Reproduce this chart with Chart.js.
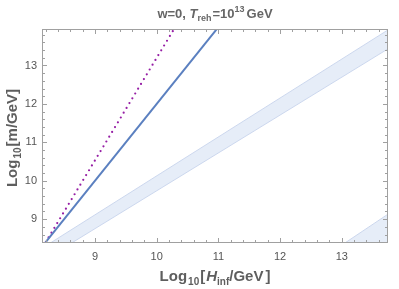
<!DOCTYPE html>
<html><head><meta charset="utf-8">
<script src="https://cdn.jsdelivr.net/npm/chart.js@4"></script>
<style>html,body{margin:0;padding:0;background:#fff;}#wrap{width:399px;height:289px;}</style>
</head><body><div id="wrap"><canvas id="c" width="399" height="289"></canvas></div>
<script>
// ---- data ----
const xTicks = [9, 10, 11, 12, 13];
const yTicks = [9, 10, 11, 12, 13];
const xRange = [8.14, 13.75];
const yRange = [8.38, 13.95];
const solidLine  = [[8.2, 8.4], [11.0, 14.0]];
const dottedLine = [[8.2, 8.4], [10.3, 14.0]];
const band1Upper = [[7.9, 8.0], [14.0, 14.18]];
const band1Lower = [[7.9, 7.67], [14.0, 13.68]];
const band2Upper = [[12.8, 8.11], [14.0, 9.4]];
const band2Lower = [[12.8, 7.2], [14.0, 8.5]];

const pts = a => a.map(([x, y]) => ({x, y}));
const FONT = "'Liberation Sans', Arial, sans-serif";
const TXT = '#5e5e5e';

function richWidth(ctx, segs) {
  let w = 0;
  for (const s of segs) { ctx.font = (s.style||'') + ' bold ' + s.size + 'px ' + FONT; w += ctx.measureText(s.t).width + (s.gap||0); }
  return w;
}
function drawRich(ctx, segs, cx, baseY) {
  let x = cx - richWidth(ctx, segs) / 2;
  ctx.textBaseline = 'alphabetic'; ctx.textAlign = 'left';
  for (const s of segs) {
    ctx.font = (s.style||'') + ' bold ' + s.size + 'px ' + FONT;
    ctx.fillText(s.t, x, baseY + (s.dy||0));
    x += ctx.measureText(s.t).width + (s.gap||0);
  }
}

const decor = {
  id: 'decor',
  afterDraw(chart) {
    const {ctx, chartArea: a, scales} = chart;
    ctx.save();
    // frame
    ctx.strokeStyle = '#a0a0a0'; ctx.lineWidth = 1;
    ctx.strokeRect(a.left + 0.5, a.top + 0.5, a.right - a.left - 1, a.bottom - a.top - 1);
    // inward ticks
    ctx.beginPath();
    const xs = scales.x, ys = scales.y;
    for (let i = Math.ceil(xs.min * 5); i <= Math.floor(xs.max * 5); i++) {
      const v = i / 5, p = Math.round(xs.getPixelForValue(v)) + 0.5;
      const L = (i % 5 === 0) ? 5 : 3;
      ctx.moveTo(p, a.bottom); ctx.lineTo(p, a.bottom - L);
      ctx.moveTo(p, a.top); ctx.lineTo(p, a.top + L);
    }
    for (let i = Math.ceil(ys.min * 5); i <= Math.floor(ys.max * 5); i++) {
      const v = i / 5, p = Math.round(ys.getPixelForValue(v)) + 0.5;
      const L = (i % 5 === 0) ? 5 : 3;
      ctx.moveTo(a.left, p); ctx.lineTo(a.left + L, p);
      ctx.moveTo(a.right, p); ctx.lineTo(a.right - L, p);
    }
    ctx.stroke();
    // title
    ctx.fillStyle = '#666';
    drawRich(ctx, [
      {t: 'w=0, ', size: 13},
      {t: 'T', size: 13, style: 'italic'},
      {t: 'reh', size: 9, dy: 3, gap: 1},
      {t: '=10', size: 13},
      {t: '13', size: 9, dy: -6, gap: 2},
      {t: 'GeV', size: 13}
    ], (a.left + a.right) / 2, 18);
    // x label
    ctx.fillStyle = TXT;
    drawRich(ctx, [
      {t: 'Log', size: 15, gap: 1},
      {t: '10', size: 10, dy: 4, gap: 1},
      {t: '[', size: 15, gap: 1},
      {t: 'H', size: 15, style: 'italic'},
      {t: 'inf', size: 10, dy: 4},
      {t: '/GeV', size: 15, gap: 2},
      {t: ']', size: 15}
    ], (a.left + a.right) / 2, 281);
    // y label
    ctx.save();
    ctx.translate(17, 138);
    ctx.rotate(-Math.PI / 2);
    drawRich(ctx, [
      {t: 'Log', size: 15, gap: 1},
      {t: '10', size: 10, dy: 4, gap: 1},
      {t: '[m/GeV]', size: 15}
    ], 0, 0);
    ctx.restore();
    ctx.restore();
  }
};

const lineDs = (data, color, extra) => Object.assign({
  data: pts(data), showLine: true, pointRadius: 0, borderColor: color,
  fill: false, clip: 0, tension: 0
}, extra);

new Chart(document.getElementById('c'), {
  type: 'scatter',
  data: {
    datasets: [
      lineDs(solidLine, '#5b80c0', {borderWidth: 2}),
      lineDs(dottedLine, 'rgb(150,30,165)', {borderWidth: 2.2, borderDash: [0, 5.6], borderCapStyle: 'round'}),
      lineDs(band1Lower, 'rgba(200,212,236,0.9)', {borderWidth: 1}),
      lineDs(band1Upper, 'rgba(200,212,236,0.9)', {borderWidth: 1, fill: '-1', backgroundColor: 'rgba(230,237,248,1)'}),
      lineDs(band2Lower, 'rgba(200,212,236,0.9)', {borderWidth: 1}),
      lineDs(band2Upper, 'rgba(200,212,236,0.9)', {borderWidth: 1, fill: '-1', backgroundColor: 'rgba(230,237,248,1)'})
    ]
  },
  options: {
    responsive: false, animation: false, devicePixelRatio: 1,
    layout: {padding: {top: 29, right: 11, left: 0, bottom: 0}},
    plugins: {legend: {display: false}, tooltip: {enabled: false}, title: {display: false}},
    scales: {
      x: {
        type: 'linear', min: xRange[0], max: xRange[1],
        grid: {display: false, drawTicks: false, tickLength: 0}, border: {display: false},
        ticks: {font: {family: FONT, size: 11}, color: '#555', padding: 7, autoSkip: false, maxRotation: 0},
        afterBuildTicks: s => { s.ticks = xTicks.map(v => ({value: v})); },
        afterFit: s => { s.height = 46; }
      },
      y: {
        type: 'linear', min: yRange[0], max: yRange[1],
        grid: {display: false, drawTicks: false, tickLength: 0}, border: {display: false},
        ticks: {font: {family: FONT, size: 11}, color: '#555', padding: 5, autoSkip: false},
        afterBuildTicks: s => { s.ticks = yTicks.map(v => ({value: v})); },
        afterFit: s => { s.width = 42; }
      }
    }
  },
  plugins: [decor]
});
</script>
</body></html>
